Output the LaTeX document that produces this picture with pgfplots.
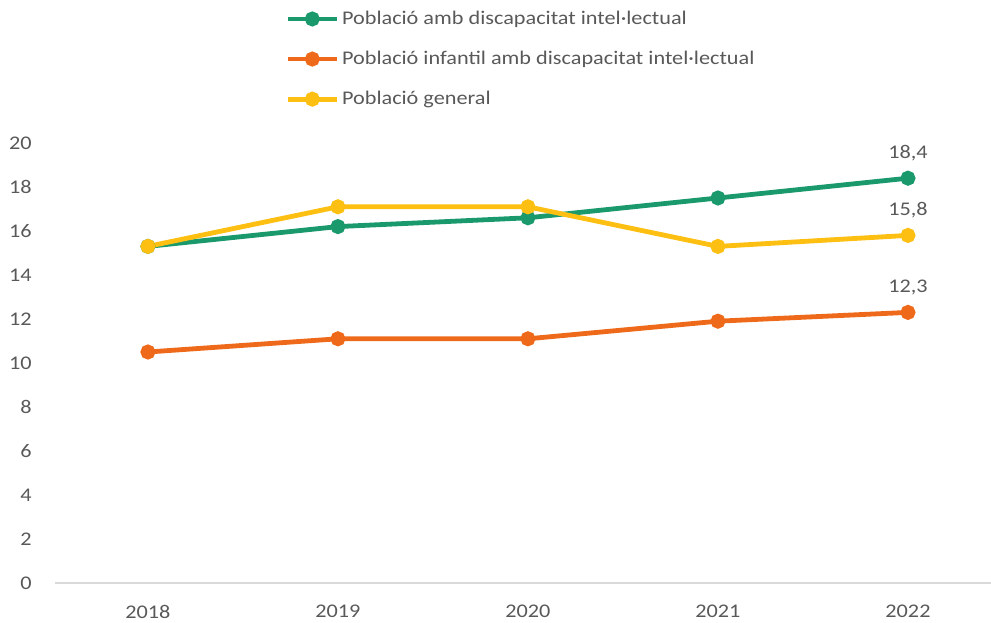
\documentclass[border=0pt]{standalone}
\usepackage{pgfplots}
\pgfplotsset{compat=1.18}
\usepackage{fontspec}
\setmainfont{Carlito}[FakeStretch=1.15]
\definecolor{cgreen}{HTML}{1A9A6C}
\definecolor{corange}{HTML}{EE6A1A}
\definecolor{cyellow}{HTML}{FCBF12}
\definecolor{ctext}{HTML}{595959}
\definecolor{caxis}{HTML}{D9D9D9}
\begin{document}
\begin{tikzpicture}
\path[use as bounding box] (-41.25pt,-30pt) rectangle (702pt,437.25pt);
\begin{axis}[
  scale only axis,
  width=702pt, height=330pt,
  xmin=-0.489, xmax=4.437,
  ymin=0, ymax=20,
  ytick={0,2,...,20},
  xtick={0,1,2,3,4},
  xticklabels={2018,2019,2020,2021,2022},
  axis line style={draw=none},
  axis x line*=bottom,
  axis y line*=left,
  major tick length=0pt,
  tick label style={font=\fontsize{14.5}{16}\selectfont, text=ctext},
  /pgf/number format/assume math mode=true,
  yticklabel style={xshift=-14pt},
  xticklabel style={yshift=-13pt},
  clip=false,
  legend style={
    at={(172.5pt,431pt)}, anchor=north west,
    draw=none, fill=none,
    font=\fontsize{14.5}{17}\selectfont, text=ctext,
    row sep=14.5pt,
    inner sep=0pt,
    cells={anchor=west},
  },
  legend cell align=left,
  legend image code/.code={
    \draw[#1, mark=none] (0pt,0pt) -- (37pt,0pt);
    \draw[#1, mark=none, fill] (18.5pt,0pt) circle (3.8pt);
  },
  every axis plot/.append style={line width=3.6pt, mark=*, mark size=3.8pt, mark options={solid}},
]
\draw[caxis, line width=1pt] (axis cs:-0.489,0) -- (axis cs:4.437,0);
\addplot[color=cgreen] coordinates {(0,15.3) (1,16.2) (2,16.6) (3,17.5) (4,18.4)}
  node[pos=1, above=8pt, text=ctext, font=\fontsize{14.5}{17}\selectfont] {18,4};
\addlegendentry{Població amb discapacitat intel·lectual}
\addplot[color=corange] coordinates {(0,10.5) (1,11.1) (2,11.1) (3,11.9) (4,12.3)}
  node[pos=1, above=8pt, text=ctext, font=\fontsize{14.5}{17}\selectfont] {12,3};
\addlegendentry{Població infantil amb discapacitat intel·lectual}
\addplot[color=cyellow] coordinates {(0,15.3) (1,17.1) (2,17.1) (3,15.3) (4,15.8)}
  node[pos=1, above=8pt, text=ctext, font=\fontsize{14.5}{17}\selectfont] {15,8};
\addlegendentry{Població general}
\end{axis}
\end{tikzpicture}
\end{document}
